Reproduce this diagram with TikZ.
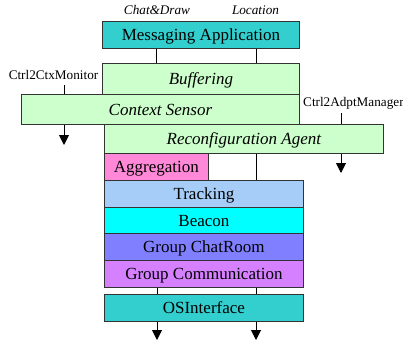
\documentclass[tikz,border=0pt]{standalone}
\usepackage{fontspec}
\setmainfont{Liberation Serif}
\usetikzlibrary{arrows.meta}
\definecolor{cmsg}{HTML}{33CFCF}
\definecolor{cgreen}{HTML}{CCFFCC}
\definecolor{cagg}{HTML}{FF88D8}
\definecolor{ctrk}{HTML}{A6CDF7}
\definecolor{cbcn}{HTML}{00FFFF}
\definecolor{cgcr}{HTML}{7F7FFF}
\definecolor{cgcm}{HTML}{D580FF}
\begin{document}
\begin{tikzpicture}[x=1pt,y=-1pt,
  layer/.style={draw=black!80,line width=0.8pt,rectangle,anchor=north west,inner sep=0pt,
    text height=13pt,text depth=1.6pt,
    font=\fontsize{17}{20}\selectfont},
  lbl/.style={inner sep=1pt,font=\fontsize{13.2}{15}\selectfont},
  conn/.style={draw=black,line width=1pt},
  arr/.style={conn,-{Triangle[width=10pt,length=10pt]}}]
\useasboundingbox (0,0) rectangle (403,340);
\coordinate (xl) at (64,0);
\coordinate (xa) at (156.5,0);
\coordinate (xb) at (256.5,0);
\coordinate (xr) at (341,0);
% layers
\node[layer,fill=cmsg,minimum width=197pt,minimum height=27pt] (msg) at (102,21) {Messaging Application};
\node[layer,fill=cgreen,minimum width=197pt,minimum height=31pt] (buf) at (102,63) {\itshape Buffering};
\node[layer,fill=cgreen,minimum width=278pt,minimum height=30pt] (ctx) at (21,94) {\itshape Context Sensor};
\node[layer,fill=cgreen,minimum width=279pt,minimum height=29pt] (rec) at (104,124) {\itshape Reconfiguration Agent};
\node[layer,fill=cagg,minimum width=104pt,minimum height=27pt] (agg) at (104,153) {Aggregation};
\node[layer,fill=ctrk,minimum width=199pt,minimum height=27pt] (trk) at (104,180) {Tracking};
\node[layer,fill=cbcn,minimum width=199pt,minimum height=26pt] (bcn) at (104,207) {Beacon};
\node[layer,fill=cgcr,minimum width=199pt,minimum height=27pt] (gcr) at (104,233) {Group ChatRoom};
\node[layer,fill=cgcm,minimum width=199pt,minimum height=27pt] (gcm) at (104,260) {Group Communication};
\node[layer,fill=cmsg,minimum width=199pt,minimum height=27pt] (osi) at (104,294) {OSInterface};
% labels
\node[lbl] (lcd) at (157,10) {\itshape Chat\&Draw};
\node[lbl] (lloc) at (255.5,10) {\itshape Location};
\node[lbl] (lcm) at (53.5,75) {Ctrl2CtxMonitor};
\node[lbl,anchor=west] (lam) at (302,103) {Ctrl2AdptManager};
% free ends
\coordinate (e1) at (64,145);
\coordinate (e2) at (341,173);
\coordinate (e3) at (157,340);
\coordinate (e4) at (256,340);
% connectors
\draw[conn] (msg.south -| xa) -- (buf.north -| xa);
\draw[conn] (msg.south -| xb) -- (buf.north -| xb);
\draw[conn] (ctx.north -| xl) -- ++(0,-9);
\draw[conn] (rec.north -| xr) -- ++(0,-11);
\draw[arr] (ctx.south -| xl) -- (e1);
\draw[arr] (rec.south -| xr) -- (e2);
\draw[conn] (rec.south -| xb) -- (trk.north -| xb);
\draw[conn] (gcm.south -| e3) -- (osi.north -| e3);
\draw[conn] (gcm.south -| e4) -- (osi.north -| e4);
\draw[arr] (osi.south -| e3) -- (e3);
\draw[arr] (osi.south -| e4) -- (e4);
\end{tikzpicture}
\end{document}
